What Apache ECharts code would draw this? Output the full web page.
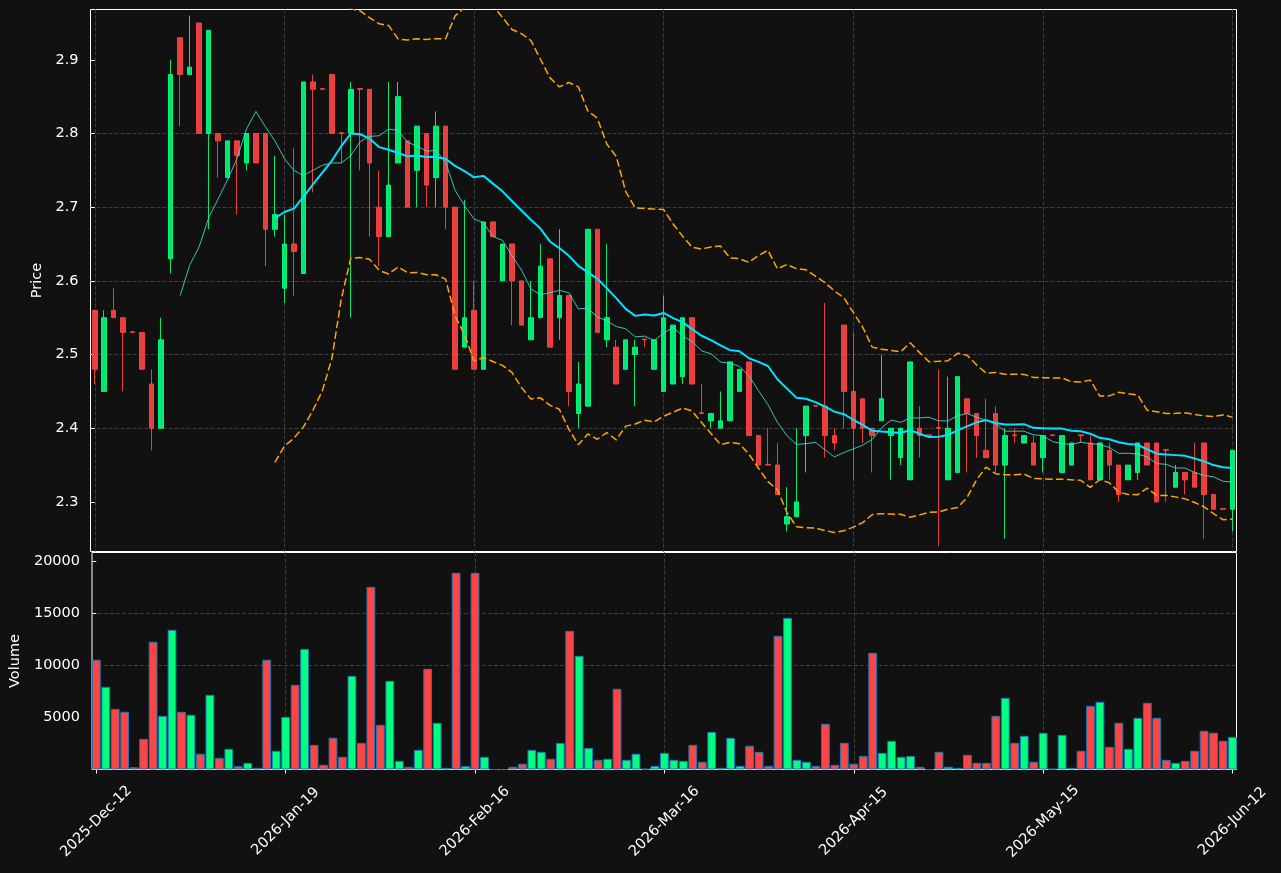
<!DOCTYPE html>
<html>
<head>
<meta charset="utf-8">
<title>Price / Volume</title>
<script src="https://cdn.jsdelivr.net/npm/echarts@6.0.0/dist/echarts.min.js"></script>
<style>
  html, body { margin: 0; padding: 0; background: #111111; }
  #chart { width: 1281px; height: 873px; }
</style>
</head>
<body>
<div id="chart"></div>
<script>
  // daily bars, x = bar index 0..120
  var opens = [
    2.56, 2.45, 2.56, 2.55, 2.531, 2.53, 2.46, 2.40, 2.63, 2.93,
    2.88, 2.95, 2.80, 2.80, 2.74, 2.79, 2.76, 2.80, 2.80, 2.67,
    2.59, 2.65, 2.61, 2.87, 2.861, 2.88, 2.801, 2.80, 2.861, 2.86,
    2.70, 2.66, 2.76, 2.79, 2.75, 2.80, 2.74, 2.81, 2.70, 2.51,
    2.56, 2.48, 2.68, 2.60, 2.65, 2.60, 2.52, 2.55, 2.63, 2.55,
    2.58, 2.42, 2.43, 2.67, 2.52, 2.51, 2.48, 2.50, 2.521, 2.48,
    2.45, 2.46, 2.47, 2.55, 2.421, 2.41, 2.40, 2.41, 2.45, 2.49,
    2.39, 2.351, 2.35, 2.27, 2.28, 2.39, 2.431, 2.43, 2.39, 2.54,
    2.45, 2.44, 2.40, 2.41, 2.39, 2.36, 2.33, 2.40, 2.391, 2.401,
    2.33, 2.34, 2.44, 2.42, 2.37, 2.42, 2.35, 2.391, 2.38, 2.38,
    2.36, 2.391, 2.34, 2.35, 2.391, 2.38, 2.33, 2.37, 2.35, 2.33,
    2.34, 2.38, 2.38, 2.371, 2.32, 2.34, 2.34, 2.38, 2.31, 2.291,
    2.29
  ];
  var closes = [
    2.48, 2.55, 2.55, 2.53, 2.53, 2.48, 2.40, 2.52, 2.88, 2.88,
    2.89, 2.80, 2.94, 2.79, 2.79, 2.77, 2.80, 2.76, 2.67, 2.69,
    2.65, 2.64, 2.87, 2.86, 2.86, 2.80, 2.80, 2.86, 2.86, 2.76,
    2.66, 2.73, 2.85, 2.70, 2.81, 2.73, 2.81, 2.70, 2.48, 2.55,
    2.48, 2.68, 2.66, 2.65, 2.60, 2.54, 2.55, 2.62, 2.51, 2.58,
    2.45, 2.46, 2.67, 2.53, 2.55, 2.46, 2.52, 2.51, 2.52, 2.52,
    2.55, 2.54, 2.55, 2.46, 2.42, 2.42, 2.41, 2.49, 2.48, 2.39,
    2.35, 2.35, 2.31, 2.28, 2.30, 2.43, 2.43, 2.39, 2.38, 2.45,
    2.40, 2.40, 2.39, 2.44, 2.40, 2.40, 2.49, 2.39, 2.39, 2.40,
    2.40, 2.47, 2.42, 2.39, 2.36, 2.35, 2.39, 2.39, 2.39, 2.35,
    2.39, 2.39, 2.39, 2.38, 2.39, 2.33, 2.38, 2.35, 2.31, 2.35,
    2.38, 2.35, 2.30, 2.37, 2.34, 2.33, 2.32, 2.31, 2.29, 2.29,
    2.37
  ];
  var lows = [
    2.46, 2.45, 2.55, 2.45, 2.53, 2.48, 2.37, 2.40, 2.61, 2.81,
    2.88, 2.80, 2.67, 2.74, 2.74, 2.69, 2.75, 2.76, 2.62, 2.66,
    2.57, 2.58, 2.61, 2.72, 2.86, 2.80, 2.76, 2.55, 2.75, 2.66,
    2.62, 2.66, 2.76, 2.70, 2.70, 2.70, 2.70, 2.67, 2.48, 2.51,
    2.48, 2.48, 2.66, 2.60, 2.54, 2.54, 2.52, 2.55, 2.51, 2.52,
    2.43, 2.40, 2.43, 2.53, 2.51, 2.46, 2.48, 2.43, 2.51, 2.48,
    2.45, 2.46, 2.46, 2.46, 2.42, 2.40, 2.40, 2.41, 2.45, 2.39,
    2.35, 2.35, 2.31, 2.26, 2.28, 2.34, 2.43, 2.36, 2.37, 2.40,
    2.33, 2.38, 2.34, 2.41, 2.33, 2.35, 2.33, 2.36, 2.39, 2.24,
    2.33, 2.34, 2.34, 2.36, 2.36, 2.34, 2.25, 2.38, 2.38, 2.35,
    2.34, 2.39, 2.34, 2.35, 2.38, 2.33, 2.33, 2.33, 2.30, 2.33,
    2.33, 2.35, 2.30, 2.30, 2.32, 2.31, 2.32, 2.25, 2.29, 2.29,
    2.26
  ];
  var highs = [
    2.56, 2.56, 2.59, 2.55, 2.531, 2.53, 2.48, 2.55, 2.90, 2.93,
    2.96, 2.95, 2.94, 2.80, 2.79, 2.79, 2.80, 2.80, 2.80, 2.77,
    2.69, 2.78, 2.87, 2.88, 2.861, 2.88, 2.801, 2.87, 2.861, 2.86,
    2.75, 2.87, 2.87, 2.79, 2.81, 2.80, 2.83, 2.81, 2.70, 2.71,
    2.60, 2.68, 2.68, 2.65, 2.65, 2.60, 2.60, 2.65, 2.63, 2.67,
    2.58, 2.49, 2.67, 2.67, 2.65, 2.52, 2.52, 2.52, 2.521, 2.52,
    2.58, 2.54, 2.55, 2.55, 2.46, 2.42, 2.45, 2.49, 2.48, 2.49,
    2.39, 2.40, 2.38, 2.32, 2.40, 2.43, 2.431, 2.57, 2.40, 2.54,
    2.53, 2.44, 2.40, 2.50, 2.40, 2.40, 2.49, 2.43, 2.391, 2.48,
    2.47, 2.47, 2.44, 2.42, 2.44, 2.43, 2.40, 2.40, 2.39, 2.39,
    2.39, 2.391, 2.39, 2.38, 2.391, 2.39, 2.38, 2.38, 2.35, 2.35,
    2.38, 2.38, 2.38, 2.371, 2.35, 2.34, 2.38, 2.38, 2.31, 2.291,
    2.37
  ];
  var volumes = [
    10550, 7950, 5830, 5550, 220, 2950, 12280, 5160, 13430, 5550,
    5260, 1510, 7180, 1120, 1990, 320, 640, 160, 10550, 1800,
    5060, 8140, 11600, 2370, 450, 3050, 1220, 9010, 2560, 17560,
    4300, 8530, 830, 260, 1890, 9680, 4490, 160, 18910, 320,
    18910, 1220, 0, 0, 260, 550, 1890, 1700, 1030, 2560,
    13330, 10930, 2080, 930, 1030, 7760, 930, 1510, 60, 350,
    1600, 930, 830, 2370, 740, 3620, 160, 3050, 350, 2280,
    1700, 350, 12850, 14580, 930, 740, 350, 4390, 450, 2560,
    550, 1310, 11220, 1600, 2760, 1220, 1310, 260, 0, 1700,
    260, 160, 1410, 640, 640, 5160, 6890, 2560, 3240, 740,
    3530, 60, 3330, 160, 1800, 6120, 6510, 2180, 4490, 1990,
    4970, 6410, 4970, 930, 640, 830, 1800, 3720, 3530, 2760,
    3140
  ];

  // tick labels
  var dateTickIdx = [0, 20, 40, 60, 80, 100, 120];
  var dateLabels = ['2025-Dec-12', '2026-Jan-19', '2026-Feb-16', '2026-Mar-16', '2026-Apr-15', '2026-May-15', '2026-Jun-12'];
  var priceTicks = [2.3, 2.4, 2.5, 2.6, 2.7, 2.8, 2.9];
  var volumeTicks = [5000, 10000, 15000, 20000];

  var UP = '#00ff7f', DOWN = '#ff4444';
  var UP_A = 'rgba(0,255,127,0.9)', DOWN_A = 'rgba(255,68,68,0.9)';
  var FONT = 'DejaVu Sans';
  var FS = 14.5;
  var GRID_LINE = { show: true, showMinLine: false, showMaxLine: false, lineStyle: { color: '#3c3c3c', width: 1, type: [4, 2] } };

  function sma(arr, n) {
    var out = [];
    for (var i = n - 1; i < arr.length; i++) {
      var s = 0;
      for (var j = i - n + 1; j <= i; j++) s += arr[j];
      out.push([i, s / n]);
    }
    return out;
  }
  // bollinger bands, sample std (ddof 1)
  function bands(arr, n, k) {
    var up = [], lo = [];
    for (var i = n - 1; i < arr.length; i++) {
      var s = 0, q = 0;
      for (var j = i - n + 1; j <= i; j++) s += arr[j];
      var m = s / n;
      for (var j2 = i - n + 1; j2 <= i; j2++) q += (arr[j2] - m) * (arr[j2] - m);
      var sd = Math.sqrt(q / (n - 1));
      up.push([i, m + k * sd]);
      lo.push([i, m - k * sd]);
    }
    return { up: up, lo: lo };
  }

  var candleData = opens.map(function (o, i) { return [i, o, closes[i], lows[i], highs[i]]; });
  var volData = volumes.map(function (v, i) {
    return { value: [i, v], itemStyle: { color: closes[i] >= opens[i] ? UP : DOWN } };
  });
  var ma10 = sma(closes, 10);
  var ma20 = sma(closes, 20);
  var bb = bands(closes, 20, 2);

  var chart = echarts.init(document.getElementById('chart'));

  var xBase = { type: 'value', min: -0.45, max: 120.42, axisLine: { show: false }, splitLine: GRID_LINE };
  chart.setOption({
    animation: false,
    backgroundColor: '#111111',
    textStyle: { fontFamily: FONT },
    grid: [
      { left: 90.5, top: 9.5, width: 1146, height: 542, show: true, borderColor: '#ffffff', borderWidth: 1, backgroundColor: 'transparent' },
      { left: 90.5, top: 552.5, width: 1146, height: 217, show: true, borderColor: '#ffffff', borderWidth: 1, backgroundColor: 'transparent' }
    ],
    xAxis: [
      Object.assign({}, xBase, { gridIndex: 0, axisTick: { show: false }, axisLabel: { show: false } }),
      Object.assign({}, xBase, {
        gridIndex: 1,
        axisTick: { show: true, customValues: dateTickIdx, length: 4, lineStyle: { color: '#ffffff' } },
        axisLabel: {
          customValues: dateTickIdx,
          formatter: function (v) { return dateLabels[dateTickIdx.indexOf(v)]; },
          rotate: 45, align: 'center', verticalAlign: 'middle', margin: 52,
          color: '#ffffff', fontSize: FS, fontFamily: FONT
        }
      })
    ],
    yAxis: [
      {
        type: 'value', gridIndex: 0, min: 2.2327, max: 2.9683,
        name: 'Price', nameLocation: 'middle', nameGap: 42,
        nameTextStyle: { color: '#ffffff', fontSize: FS, fontFamily: FONT },
        axisLine: { show: false },
        axisTick: { show: true, customValues: priceTicks, length: 4, lineStyle: { color: '#ffffff' } },
        axisLabel: { customValues: priceTicks, formatter: function (v) { return v.toFixed(1); }, margin: 12, color: '#ffffff', fontSize: FS, fontFamily: FONT },
        splitLine: GRID_LINE
      },
      {
        type: 'value', gridIndex: 1, min: 0, max: 20865,
        name: 'Volume', nameLocation: 'middle', nameGap: 66,
        nameTextStyle: { color: '#ffffff', fontSize: FS, fontFamily: FONT },
        axisLine: { show: false },
        axisTick: { show: true, customValues: volumeTicks, length: 4, lineStyle: { color: '#ffffff' } },
        axisLabel: { customValues: volumeTicks, formatter: function (v) { return String(v); }, margin: 12, color: '#ffffff', fontSize: FS, fontFamily: FONT },
        splitLine: GRID_LINE
      }
    ],
    series: [
      {
        name: 'OHLC', type: 'candlestick', xAxisIndex: 0, yAxisIndex: 0,
        barWidth: 5,
        encode: { x: 0, y: [1, 2, 3, 4] },
        itemStyle: { color: UP_A, color0: DOWN_A, borderColor: UP_A, borderColor0: DOWN_A, borderWidth: 1 },
        data: candleData, z: 2
      },
      {
        name: 'BB upper', type: 'line', xAxisIndex: 0, yAxisIndex: 0, showSymbol: false,
        lineStyle: { color: '#ffa500', width: 1.5, type: [7.5, 3.3] }, data: bb.up, z: 3
      },
      {
        name: 'BB lower', type: 'line', xAxisIndex: 0, yAxisIndex: 0, showSymbol: false,
        lineStyle: { color: '#ffa500', width: 1.5, type: [7.5, 3.3] }, data: bb.lo, z: 3
      },
      {
        name: 'MA10', type: 'line', xAxisIndex: 0, yAxisIndex: 0, showSymbol: false,
        lineStyle: { color: '#40e0d0', width: 1, opacity: 0.85 }, data: ma10, z: 4
      },
      {
        name: 'MA20', type: 'line', xAxisIndex: 0, yAxisIndex: 0, showSymbol: false,
        lineStyle: { color: '#00e5ff', width: 2 }, data: ma20, z: 5
      },
      {
        name: 'Volume', type: 'bar', xAxisIndex: 1, yAxisIndex: 1,
        barWidth: 8.8,
        itemStyle: { borderColor: '#1f77b4', borderWidth: 1 },
        data: volData
      }
    ]
  });
</script>
</body>
</html>
